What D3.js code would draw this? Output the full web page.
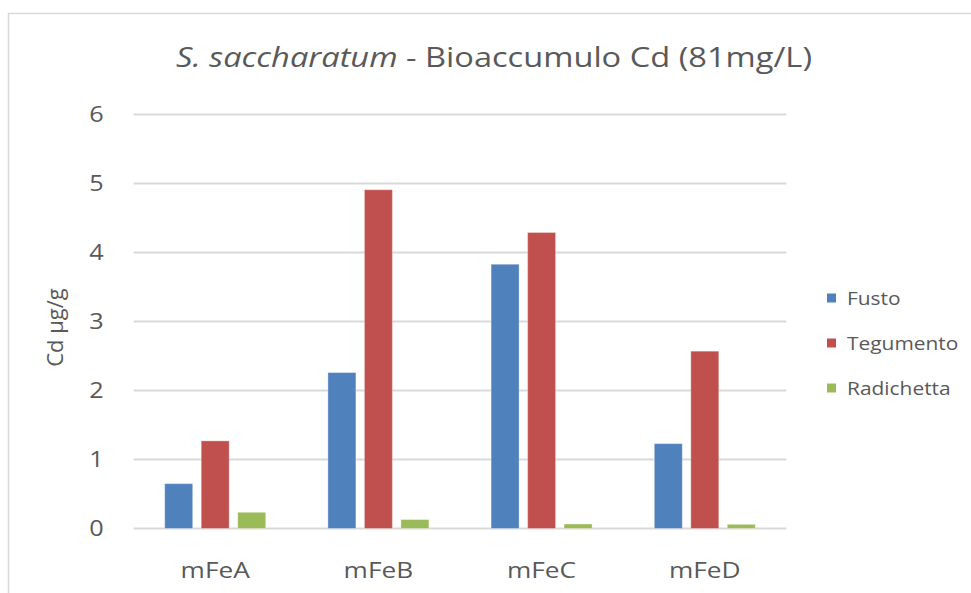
<!DOCTYPE html>
<html>
<head>
<meta charset="utf-8">
<script src="https://cdn.jsdelivr.net/npm/d3@7"></script>
<style>
  html, body { margin: 0; padding: 0; background: #fff; }
  svg { display: block; }
  text { font-family: "Open Sans", "Liberation Sans", sans-serif; fill: #595959; }
</style>
</head>
<body>
<svg id="chart" width="971" height="593"></svg>
<script>
// Cadmium bioaccumulation (µg/g) per treatment and plant tissue
const categories = ["mFeA", "mFeB", "mFeC", "mFeD"];
const seriesNames = ["Fusto", "Tegumento", "Radichetta"];
const fusto      = [0.65, 2.26, 3.83, 1.23];
const tegumento  = [1.27, 4.91, 4.29, 2.57];
const radichetta = [0.235, 0.13, 0.065, 0.06];
const seriesColors = ["#4f81bd", "#c0504d", "#9bbb59"];
const yTicks = [0, 1, 2, 3, 4, 5, 6];

const seriesValues = [fusto, tegumento, radichetta];
const rows = categories.map((c, i) => ({
  cat: c,
  vals: seriesNames.map((s, j) => ({ key: s, value: seriesValues[j][i] }))
}));

const svg = d3.select("#chart");

// Chart frame
svg.append("rect")
  .attr("x", 8.5).attr("y", 13.5)
  .attr("width", 1000).attr("height", 700)
  .attr("fill", "none").attr("stroke", "#d9d9d9").attr("stroke-width", 1.5);

const plot = { left: 133.6, right: 786.4, top: 114.5, bottom: 528.5 };

const x0 = d3.scaleBand().domain(categories).range([plot.left, plot.right]).padding(0);
const y = d3.scaleLinear().domain([0, 6]).range([plot.bottom, plot.top]);
const x1 = d3.scaleBand().domain(seriesNames).range([0, 101]).paddingInner(0.233).paddingOuter(0);
const color = d3.scaleOrdinal().domain(seriesNames).range(seriesColors);

// Horizontal gridlines
svg.append("g").selectAll("line").data(yTicks).join("line")
  .attr("x1", plot.left).attr("x2", plot.right)
  .attr("y1", d => y(d)).attr("y2", d => y(d))
  .attr("stroke", "#d9d9d9").attr("stroke-width", 2);

// Y tick labels
const yAxis = svg.append("g")
  .attr("transform", `translate(${plot.left},0)`)
  .call(d3.axisLeft(y).tickValues(yTicks).tickSize(0).tickPadding(30).tickFormat(d3.format("d")));
yAxis.select(".domain").remove();
yAxis.selectAll("text")
  .style("font-family", "'Open Sans', sans-serif")
  .attr("font-size", 21).attr("fill", "#595959");

// Bars
const groups = svg.append("g").selectAll("g").data(rows).join("g")
  .attr("transform", d => `translate(${x0(d.cat) + x0.bandwidth() / 2 - 50.5},0)`);
groups.selectAll("rect").data(d => d.vals).join("rect")
  .attr("x", d => x1(d.key))
  .attr("width", x1.bandwidth())
  .attr("y", d => y(d.value))
  .attr("height", d => y(0) - y(d.value))
  .attr("fill", d => color(d.key))
  .attr("stroke", "#ffffff").attr("stroke-opacity", 0.35).attr("stroke-width", 1);

// Category labels
svg.append("g").selectAll("text").data(categories).join("text")
  .attr("x", d => x0(d) + x0.bandwidth() / 2)
  .attr("y", 578)
  .attr("text-anchor", "middle")
  .attr("font-size", 21)
  .text(d => d);

// Y axis title
svg.append("text")
  .attr("transform", `translate(63,${(plot.top + plot.bottom) / 2 + 6}) rotate(-90)`)
  .attr("text-anchor", "middle")
  .attr("font-size", 22)
  .text("Cd µg/g");

// Title
const title = svg.append("text")
  .attr("x", 494).attr("y", 67)
  .attr("text-anchor", "middle")
  .attr("font-size", 27);
title.append("tspan").attr("font-style", "italic").text("S. saccharatum");
title.append("tspan").text(" - Bioaccumulo Cd (81mg/L)");

// Legend
const legend = svg.append("g").selectAll("g").data(seriesNames).join("g")
  .attr("transform", (d, i) => `translate(827,${298 + i * 45})`);
legend.append("rect")
  .attr("x", 0).attr("y", -4.5).attr("width", 9).attr("height", 9)
  .attr("fill", d => color(d));
legend.append("text")
  .attr("x", 20).attr("y", 0).attr("dy", "0.36em")
  .attr("font-size", 19)
  .text(d => d);

// Widen glyph runs slightly so each label spans the width used in the layout
function widen(sel, factor) {
  sel.each(function () {
    const w = this.getComputedTextLength();
    d3.select(this).attr("textLength", w * factor).attr("lengthAdjust", "spacingAndGlyphs");
  });
}
widen(yAxis.selectAll("text"), 1.2);
widen(svg.selectAll("g text").filter(function () { return categories.includes(this.textContent); }), 1.25);
widen(legend.selectAll("text"), 1.1);
title.attr("textLength", 636).attr("lengthAdjust", "spacingAndGlyphs");
</script>
</body>
</html>
